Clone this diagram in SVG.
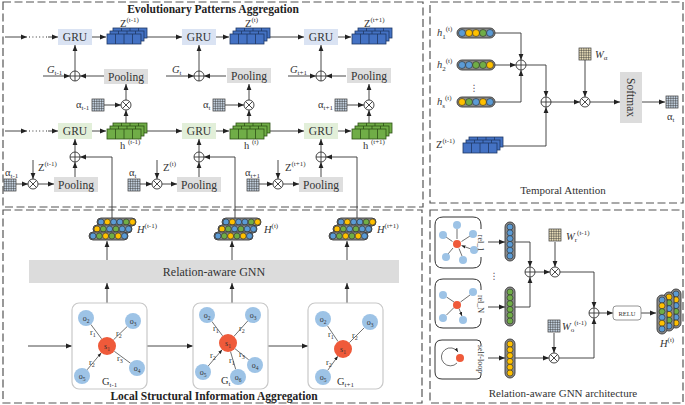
<svg xmlns="http://www.w3.org/2000/svg" xmlns:xlink="http://www.w3.org/1999/xlink" width="685" height="405" viewBox="0 0 685 405">
<style>
text{font-family:"Liberation Serif","Times New Roman",serif;fill:#333}
.bt{font-weight:bold;font-size:11.5px;fill:#222;text-anchor:middle}
.box{fill:none;stroke:#555;stroke-width:1.2;stroke-dasharray:8 3.5}
.ln{fill:none;stroke:#333;stroke-width:0.9}
.ar{fill:none;stroke:#333;stroke-width:0.9;marker-end:url(#ah)}
.dot{fill:none;stroke:#333;stroke-width:1;stroke-dasharray:1 2.4}
.gru1{fill:#dae3f3}
.gru2{fill:#e2efd9}
.pool{fill:#dedede}
.lbl{font-size:11.5px;text-anchor:middle}
.sm{font-size:10.5px}
.sup{font-size:7px}
.B{fill:#5b9bd5}.Y{fill:#ffc000}.G{fill:#70ad47}
.c circle{stroke:#2b2b2b;stroke-width:0.6}
.pill{fill:#8a8a8a;stroke:#3a3a3a;stroke-width:0.9}
.gbox{fill:#fff;stroke:#c8c8c8;stroke-width:1.2}
.on{fill:#9dc3e6}
.sn{fill:#ef5a3a}
.ge{fill:none;stroke:#333;stroke-width:0.7;marker-end:url(#as)}
.nt{font-size:8px;text-anchor:middle}
.rl{font-size:8.5px}
.zb{fill:#4472c4;stroke:#1f3864;stroke-width:0.8}
.hb{fill:#70ad47;stroke:#2d5016;stroke-width:0.8}
.mB{fill:#c9d7e6}
.mY{fill:#efe3bd}
</style>
<defs>
<marker id="ah" viewBox="0 0 10 10" refX="10" refY="5" markerWidth="6" markerHeight="6" orient="auto" markerUnits="userSpaceOnUse"><path d="M0 1L10 5L0 9z" fill="#222"/></marker>
<marker id="as" viewBox="0 0 10 10" refX="10" refY="5" markerWidth="4" markerHeight="4" orient="auto" markerUnits="userSpaceOnUse"><path d="M0 1L10 5L0 9z" fill="#222"/></marker>
<g id="op"><circle r="5" fill="#fff" stroke="#333" stroke-width="0.9"/><path d="M-5 0H5M0 -5V5" stroke="#333" stroke-width="0.9"/></g>
<g id="ot"><circle r="5" fill="#fff" stroke="#333" stroke-width="0.9"/><path d="M-3.5 -3.5L3.5 3.5M-3.5 3.5L3.5 -3.5" stroke="#333" stroke-width="0.9"/></g>
<g id="cube">
<g transform="translate(6,0)"><rect width="34" height="10"/><path d="M8.5 0v10M17 0v10M25.5 0v10"/></g>
<g transform="translate(3,3)"><rect width="34" height="10"/><path d="M8.5 0v10M17 0v10M25.5 0v10"/></g>
<g transform="translate(0,6)"><rect width="34" height="10"/><path d="M8.5 0v10M17 0v10M25.5 0v10"/></g>
</g>
<g id="mat"><rect width="12" height="12" stroke="#333" stroke-width="0.7"/><path d="M2.4 0V12M4.8 0V12M7.2 0V12M9.6 0V12M0 2.4H12M0 4.8H12M0 7.2H12M0 9.6H12" stroke="#333" stroke-width="0.5" fill="none"/></g>
<g id="Hs" class="c">
<g transform="translate(8,0)"><rect width="39" height="8" rx="4" class="pill"/><circle cx="4" cy="4" r="3" class="B"/><circle cx="10.3" cy="4" r="3" class="Y"/><circle cx="16.6" cy="4" r="3" class="B"/><circle cx="22.9" cy="4" r="3" class="B"/><circle cx="29.2" cy="4" r="3" class="G"/><circle cx="35.5" cy="4" r="3" class="Y"/></g>
<g transform="translate(4,7)"><rect width="39" height="8" rx="4" class="pill"/><circle cx="4" cy="4" r="3" class="Y"/><circle cx="10.3" cy="4" r="3" class="G"/><circle cx="16.6" cy="4" r="3" class="B"/><circle cx="22.9" cy="4" r="3" class="G"/><circle cx="29.2" cy="4" r="3" class="B"/><circle cx="35.5" cy="4" r="3" class="B"/></g>
<g transform="translate(0,14)"><rect width="39" height="8" rx="4" class="pill"/><circle cx="4" cy="4" r="3" class="B"/><circle cx="10.3" cy="4" r="3" class="G"/><circle cx="16.6" cy="4" r="3" class="Y"/><circle cx="22.9" cy="4" r="3" class="G"/><circle cx="29.2" cy="4" r="3" class="Y"/><circle cx="35.5" cy="4" r="3" class="B"/></g>
</g>
</defs>

<rect width="685" height="405" fill="#fff"/>

<!-- panels -->
<g id="panels">
<rect class="box" x="3" y="2" width="420" height="205"/>
<rect class="box" x="3" y="210" width="419" height="193"/>
<rect class="box" x="430" y="2" width="253" height="201"/>
<rect class="box" x="430" y="210" width="253" height="193"/>
</g>

<text class="bt" x="213" y="12.5">Evolutionary Patterns Aggregation</text>
<text class="bt" x="214" y="400">Local Structural Information Aggregation</text>
<text class="lbl" x="563" y="194" style="font-size:11px">Temporal Attention</text>
<text class="lbl" x="563" y="397" style="font-size:11px">Relation-aware GNN architecture</text>

<!-- connectors -->
<g id="connectors">
<!-- row 1 -->
<line class="ar" x1="5" y1="37" x2="27" y2="37"/>
<line class="dot" x1="29" y1="37" x2="48" y2="37"/>
<line class="ar" x1="48" y1="37" x2="58" y2="37"/>
<line class="ar" x1="92" y1="37" x2="106" y2="37"/>
<line class="ar" x1="147" y1="37" x2="182" y2="37"/>
<line class="ar" x1="216" y1="37" x2="229" y2="37"/>
<line class="ar" x1="270" y1="37" x2="304" y2="37"/>
<line class="ar" x1="338" y1="37" x2="351" y2="37"/>
<!-- row 2 -->
<line class="ar" x1="75" y1="71" x2="75" y2="45"/>
<line class="ar" x1="43" y1="76" x2="70" y2="76"/>
<line class="ar" x1="104" y1="76" x2="80" y2="76"/>
<line class="ar" x1="199" y1="71" x2="199" y2="45"/>
<line class="ar" x1="166" y1="76" x2="194" y2="76"/>
<line class="ar" x1="226" y1="76" x2="204" y2="76"/>
<line class="ar" x1="321" y1="71" x2="321" y2="45"/>
<line class="ar" x1="288" y1="76" x2="316" y2="76"/>
<line class="ar" x1="346" y1="76" x2="326" y2="76"/>
<!-- row 3 -->
<line class="ar" x1="126" y1="100" x2="126" y2="84"/>
<line class="ar" x1="249" y1="100" x2="249" y2="84"/>
<line class="ar" x1="369" y1="100" x2="369" y2="84"/>
<line class="ar" x1="104" y1="105" x2="121" y2="105"/>
<line class="ar" x1="225" y1="105" x2="244" y2="105"/>
<line class="ar" x1="347" y1="105" x2="364" y2="105"/>
<line class="ar" x1="126" y1="125" x2="126" y2="110"/>
<line class="ar" x1="249" y1="125" x2="249" y2="110"/>
<line class="ar" x1="369" y1="125" x2="369" y2="110"/>
<!-- row 4 -->
<line class="ar" x1="5" y1="131" x2="27" y2="131"/>
<line class="dot" x1="29" y1="131" x2="48" y2="131"/>
<line class="ar" x1="48" y1="131" x2="58" y2="131"/>
<line class="ar" x1="92" y1="131" x2="106" y2="131"/>
<line class="ar" x1="147" y1="131" x2="182" y2="131"/>
<line class="ar" x1="216" y1="131" x2="229" y2="131"/>
<line class="ar" x1="270" y1="131" x2="304" y2="131"/>
<line class="ar" x1="338" y1="131" x2="351" y2="131"/>
<!-- row 5 -->
<line class="ar" x1="75" y1="152" x2="75" y2="139"/>
<line class="ar" x1="199" y1="152" x2="199" y2="139"/>
<line class="ar" x1="321" y1="152" x2="321" y2="139"/>
<line class="ar" x1="75" y1="177" x2="75" y2="162"/>
<line class="ar" x1="199" y1="177" x2="199" y2="162"/>
<line class="ar" x1="321" y1="177" x2="321" y2="162"/>
<polyline class="ar" points="112,218 112,157 80,157"/>
<polyline class="ar" points="235,218 235,157 204,157"/>
<polyline class="ar" points="357,218 357,157 326,157"/>
<line class="ar" x1="16" y1="184" x2="28" y2="184"/>
<line class="ar" x1="38" y1="184" x2="54" y2="184"/>
<line class="ar" x1="33" y1="160" x2="33" y2="179"/>
<line class="ar" x1="140" y1="184" x2="152" y2="184"/>
<line class="ar" x1="162" y1="184" x2="177" y2="184"/>
<line class="ar" x1="157" y1="160" x2="157" y2="179"/>
<line class="ar" x1="259" y1="184" x2="273" y2="184"/>
<line class="ar" x1="283" y1="184" x2="299" y2="184"/>
<line class="ar" x1="278" y1="160" x2="278" y2="179"/>
<!-- bottom-left -->
<line class="ar" x1="107" y1="260" x2="107" y2="241"/>
<line class="ar" x1="232" y1="260" x2="232" y2="241"/>
<line class="ar" x1="347" y1="260" x2="347" y2="241"/>
<line class="ar" x1="107" y1="303" x2="107" y2="283"/>
<line class="ar" x1="232" y1="303" x2="232" y2="283"/>
<line class="ar" x1="347" y1="303" x2="347" y2="283"/>
<line class="ar" x1="28" y1="346" x2="72" y2="346"/>
<line class="ar" x1="147" y1="346" x2="193" y2="346"/>
<line class="ar" x1="268" y1="346" x2="308" y2="346"/>
<!-- temporal attention -->
<polyline class="ar" points="494,33 521,33 521,60"/>
<line class="ar" x1="494" y1="65" x2="516" y2="65"/>
<polyline class="ar" points="494,102 521,102 521,70"/>
<polyline class="ar" points="526,65 546,65 546,97"/>
<polyline class="ar" points="503,146 546,146 546,107"/>
<line class="ar" x1="551" y1="102" x2="580" y2="102"/>
<line class="ar" x1="585" y1="60" x2="585" y2="97"/>
<line class="ar" x1="590" y1="102" x2="620" y2="102"/>
<line class="ar" x1="642" y1="102" x2="665" y2="102"/>
<!-- gnn architecture -->
<line class="ar" x1="488" y1="242" x2="505" y2="242"/>
<polyline class="ar" points="515,242 530,242 530,267"/>
<line class="ar" x1="488" y1="307" x2="505" y2="307"/>
<polyline class="ar" points="515,307 530,307 530,277"/>
<line class="ar" x1="535" y1="272" x2="550" y2="272"/>
<line class="ar" x1="555" y1="242" x2="555" y2="267"/>
<polyline class="ar" points="560,272 594,272 594,308"/>
<line class="ar" x1="488" y1="358" x2="505" y2="358"/>
<line class="ar" x1="515" y1="358" x2="549" y2="358"/>
<line class="ar" x1="554" y1="333" x2="554" y2="353"/>
<polyline class="ar" points="559,358 594,358 594,318"/>
<line class="ar" x1="599" y1="313" x2="613" y2="313"/>
<line class="ar" x1="641" y1="313" x2="656" y2="313"/>
</g>

<!-- Evolutionary patterns nodes -->
<g id="gru-z1"><rect class="gru1" x="58" y="29" width="34" height="16"/><text class="lbl" x="75" y="41">GRU</text></g>
<g id="gru-z2"><rect class="gru1" x="182" y="29" width="34" height="16"/><text class="lbl" x="199" y="41">GRU</text></g>
<g id="gru-z3"><rect class="gru1" x="304" y="29" width="34" height="16"/><text class="lbl" x="321" y="41">GRU</text></g>
<g id="Z1"><use href="#cube" x="107" y="28" class="zb"/><text class="sm" x="120" y="26.5">Z<tspan class="sup" dy="-4.5">(t-1)</tspan></text></g>
<g id="Z2"><use href="#cube" x="230" y="28" class="zb"/><text class="sm" x="245" y="26.5">Z<tspan class="sup" dy="-4.5">(t)</tspan></text></g>
<g id="Z3"><use href="#cube" x="352" y="28" class="zb"/><text class="sm" x="364" y="26.5">Z<tspan class="sup" dy="-4.5">(t+1)</tspan></text></g>

<g id="agg1"><use href="#op" x="75" y="76"/><text class="sm" x="47" y="73"><tspan font-style="italic">G</tspan><tspan class="sup" dy="2">t-1</tspan></text></g>
<g id="agg2"><use href="#op" x="199" y="76"/><text class="sm" x="172" y="73"><tspan font-style="italic">G</tspan><tspan class="sup" dy="2">t</tspan></text></g>
<g id="agg3"><use href="#op" x="321" y="76"/><text class="sm" x="290" y="73"><tspan font-style="italic">G</tspan><tspan class="sup" dy="2">t+1</tspan></text></g>
<g id="poolA1"><rect class="pool" x="104" y="69" width="44" height="15"/><text class="lbl" x="126" y="80.5">Pooling</text></g>
<g id="poolA2"><rect class="pool" x="227" y="68" width="44" height="15"/><text class="lbl" x="249" y="79.5">Pooling</text></g>
<g id="poolA3"><rect class="pool" x="347" y="68" width="44" height="15"/><text class="lbl" x="369" y="79.5">Pooling</text></g>

<g id="mulA1"><use href="#ot" x="126" y="105"/><use href="#mat" x="92" y="99" class="mB"/><text class="sm" x="76" y="108">α<tspan class="sup" dy="2">t-1</tspan></text></g>
<g id="mulA2"><use href="#ot" x="249" y="105"/><use href="#mat" x="213" y="99" class="mB"/><text class="sm" x="203" y="108">α<tspan class="sup" dy="2">t</tspan></text></g>
<g id="mulA3"><use href="#ot" x="369" y="105"/><use href="#mat" x="335" y="99" class="mB"/><text class="sm" x="318" y="108">α<tspan class="sup" dy="2">t+1</tspan></text></g>

<g id="gru-h1"><rect class="gru2" x="58" y="123" width="34" height="16"/><text class="lbl" x="75" y="135">GRU</text></g>
<g id="gru-h2"><rect class="gru2" x="182" y="123" width="34" height="16"/><text class="lbl" x="199" y="135">GRU</text></g>
<g id="gru-h3"><rect class="gru2" x="304" y="123" width="34" height="16"/><text class="lbl" x="321" y="135">GRU</text></g>
<g id="h1"><use href="#cube" x="107" y="123" class="hb"/><text class="sm" x="120" y="149">h <tspan class="sup" dy="-5">(t-1)</tspan></text></g>
<g id="h2"><use href="#cube" x="230" y="123" class="hb"/><text class="sm" x="244" y="149">h <tspan class="sup" dy="-5">(t)</tspan></text></g>
<g id="h3"><use href="#cube" x="352" y="123" class="hb"/><text class="sm" x="363" y="149">h <tspan class="sup" dy="-5">(t+1)</tspan></text></g>

<g id="aggB1"><use href="#op" x="75" y="157"/></g>
<g id="aggB2"><use href="#op" x="199" y="157"/></g>
<g id="aggB3"><use href="#op" x="321" y="157"/></g>
<g id="poolB1"><rect class="pool" x="54" y="177" width="44" height="15"/><text class="lbl" x="76" y="188.5">Pooling</text></g>
<g id="poolB2"><rect class="pool" x="177" y="177" width="44" height="15"/><text class="lbl" x="199" y="188.5">Pooling</text></g>
<g id="poolB3"><rect class="pool" x="299" y="177" width="44" height="15"/><text class="lbl" x="321" y="188.5">Pooling</text></g>
<g id="mulB1"><use href="#ot" x="33" y="184"/><use href="#mat" x="4" y="179" class="mB"/><text class="sm" x="5" y="176">α<tspan class="sup" dy="2">t-1</tspan></text><text class="sm" x="38" y="171">Z<tspan class="sup" dy="-5">(t-1)</tspan></text></g>
<g id="mulB2"><use href="#ot" x="157" y="184"/><use href="#mat" x="128" y="179" class="mB"/><text class="sm" x="129" y="176">α<tspan class="sup" dy="2">t</tspan></text><text class="sm" x="163" y="171">Z<tspan class="sup" dy="-5">(t)</tspan></text></g>
<g id="mulB3"><use href="#ot" x="278" y="184"/><use href="#mat" x="247" y="179" class="mB"/><text class="sm" x="245" y="176">α<tspan class="sup" dy="2">t+1</tspan></text><text class="sm" x="285" y="171">Z<tspan class="sup" dy="-5">(t+1)</tspan></text></g>

<!-- Local structural -->
<g id="H1"><use href="#Hs" x="89" y="218"/><text class="sm" x="137" y="233"><tspan font-style="italic">H</tspan><tspan class="sup" dy="-5">(t-1)</tspan></text></g>
<g id="H2"><use href="#Hs" x="214" y="218"/><text class="sm" x="264" y="233"><tspan font-style="italic">H</tspan><tspan class="sup" dy="-5">(t)</tspan></text></g>
<g id="H3"><use href="#Hs" x="329" y="218"/><text class="sm" x="377" y="233"><tspan font-style="italic">H</tspan><tspan class="sup" dy="-5">(t+1)</tspan></text></g>
<g id="gnn"><rect x="29" y="260" width="370" height="23" fill="#dcdcdc"/><text class="lbl" x="214" y="276" style="font-size:12px">Relation-aware GNN</text></g>

<g id="graph1">
<rect class="gbox" x="72" y="303" width="75" height="86" rx="7"/>
<path class="ge" d="M101.6 338.8L90.8 324.4M113.5 339.8L127.2 326.5M114.3 351.3L130.6 363.3M87.1 369.8L101.2 352.9"/>
<circle class="on" cx="86" cy="318" r="8"/><circle class="on" cx="133" cy="321" r="8"/><circle class="on" cx="82" cy="376" r="8"/><circle class="on" cx="137" cy="368" r="8"/>
<circle class="sn" cx="107" cy="346" r="9"/>
<text class="nt" x="86" y="321">o<tspan font-size="5.5" dy="1.5">2</tspan></text>
<text class="nt" x="133" y="324">o<tspan font-size="5.5" dy="1.5">3</tspan></text>
<text class="nt" x="82" y="379">o<tspan font-size="5.5" dy="1.5">5</tspan></text>
<text class="nt" x="137" y="371">o<tspan font-size="5.5" dy="1.5">4</tspan></text>
<text class="nt" x="107" y="349">s<tspan font-size="5.5" dy="1.5">1</tspan></text>
<text class="rl" x="90" y="335">r<tspan font-size="6" dy="1.5">1</tspan></text>
<text class="rl" x="116" y="336">r<tspan font-size="6" dy="1.5">2</tspan></text>
<text class="rl" x="117" y="361">r<tspan font-size="6" dy="1.5">3</tspan></text>
<text class="rl" x="89" y="365">r<tspan font-size="6" dy="1.5">2</tspan></text>
<text class="sm" x="102" y="385">G<tspan class="sup" dy="2">t-1</tspan></text>
</g>

<g id="graph2">
<rect class="gbox" x="193" y="303" width="75" height="86" rx="7"/>
<path class="ge" d="M222.6 335.8L211.8 321.4M234 336.3L247.7 321M235 348.7L248.8 359.9M230.5 351.6L235.7 369.3M208.2 366L222.1 349.8"/>
<circle class="on" cx="207" cy="315" r="8"/><circle class="on" cx="253" cy="315" r="8"/><circle class="on" cx="203" cy="372" r="8"/><circle class="on" cx="255" cy="365" r="8"/><circle class="on" cx="238" cy="377" r="8"/>
<circle class="sn" cx="228" cy="343" r="9"/>
<text class="nt" x="207" y="318">o<tspan font-size="5.5" dy="1.5">2</tspan></text>
<text class="nt" x="253" y="318">o<tspan font-size="5.5" dy="1.5">3</tspan></text>
<text class="nt" x="203" y="375">o<tspan font-size="5.5" dy="1.5">5</tspan></text>
<text class="nt" x="255" y="368">o<tspan font-size="5.5" dy="1.5">4</tspan></text>
<text class="nt" x="238" y="380">o<tspan font-size="5.5" dy="1.5">6</tspan></text>
<text class="nt" x="228" y="346">s<tspan font-size="5.5" dy="1.5">1</tspan></text>
<text class="rl" x="213" y="331">r<tspan font-size="6" dy="1.5">1</tspan></text>
<text class="rl" x="239" y="331">r<tspan font-size="6" dy="1.5">2</tspan></text>
<text class="rl" x="210" y="358">r<tspan font-size="6" dy="1.5">2</tspan></text>
<text class="rl" x="229" y="363">r<tspan font-size="6" dy="1.5">1</tspan></text>
<text class="rl" x="239" y="357">r<tspan font-size="6" dy="1.5">3</tspan></text>
<text class="sm" x="221" y="384">G<tspan class="sup" dy="2">t</tspan></text>
</g>

<g id="graph3">
<rect class="gbox" x="308" y="303" width="75" height="86" rx="7"/>
<path class="ge" d="M338 341.5L327.4 325.7M349.4 342.6L364.3 327.7M327.6 370.5L337.8 356.3"/>
<circle class="on" cx="323" cy="319" r="8"/><circle class="on" cx="370" cy="322" r="8"/><circle class="on" cx="323" cy="377" r="8"/>
<circle class="sn" cx="343" cy="349" r="9"/>
<text class="nt" x="323" y="322">o<tspan font-size="5.5" dy="1.5">2</tspan></text>
<text class="nt" x="370" y="325">o<tspan font-size="5.5" dy="1.5">3</tspan></text>
<text class="nt" x="323" y="380">o<tspan font-size="5.5" dy="1.5">5</tspan></text>
<text class="nt" x="343" y="352">s<tspan font-size="5.5" dy="1.5">1</tspan></text>
<text class="rl" x="328" y="337">r<tspan font-size="6" dy="1.5">1</tspan></text>
<text class="rl" x="352" y="338">r<tspan font-size="6" dy="1.5">2</tspan></text>
<text class="rl" x="326" y="365">r<tspan font-size="6" dy="1.5">2</tspan></text>
<text class="sm" x="337" y="385">G<tspan class="sup" dy="2">t+1</tspan></text>
</g>

<!-- Temporal attention -->
<g id="ta-h1" class="c"><text class="sm" x="437" y="36"><tspan font-style="italic">h</tspan><tspan class="sup" dy="3">1</tspan><tspan class="sup" dy="-8">(t)</tspan></text>
<rect x="457" y="28" width="38" height="10" rx="5" class="pill"/><circle cx="462" cy="33" r="3.5" class="B"/><circle cx="469" cy="33" r="3.5" class="Y"/><circle cx="476" cy="33" r="3.5" class="Y"/><circle cx="483" cy="33" r="3.5" class="G"/><circle cx="490" cy="33" r="3.5" class="B"/></g>
<g id="ta-h2" class="c"><text class="sm" x="437" y="68"><tspan font-style="italic">h</tspan><tspan class="sup" dy="3">2</tspan><tspan class="sup" dy="-8">(t)</tspan></text>
<rect x="457" y="60" width="38" height="10" rx="5" class="pill"/><circle cx="462" cy="65" r="3.5" class="B"/><circle cx="469" cy="65" r="3.5" class="B"/><circle cx="476" cy="65" r="3.5" class="G"/><circle cx="483" cy="65" r="3.5" class="G"/><circle cx="490" cy="65" r="3.5" class="Y"/></g>
<text x="474" y="91" style="font-family:'DejaVu Sans',sans-serif;font-size:9px;fill:#555" text-anchor="middle">⋮</text>
<g id="ta-hs" class="c"><text class="sm" x="437" y="105"><tspan font-style="italic">h</tspan><tspan class="sup" dy="3">s</tspan><tspan class="sup" dy="-8">(t)</tspan></text>
<rect x="457" y="97" width="38" height="10" rx="5" class="pill"/><circle cx="462" cy="102" r="3.5" class="Y"/><circle cx="469" cy="102" r="3.5" class="G"/><circle cx="476" cy="102" r="3.5" class="B"/><circle cx="483" cy="102" r="3.5" class="Y"/><circle cx="490" cy="102" r="3.5" class="B"/></g>
<g id="ta-sum1"><use href="#op" x="521" y="65"/></g>
<g id="ta-sum2"><use href="#op" x="546" y="102"/></g>
<g id="ta-z"><use href="#cube" x="463" y="137" class="zb"/><text class="sm" x="436" y="148">Z<tspan class="sup" dy="-5">(t-1)</tspan></text></g>
<g id="ta-mul"><use href="#ot" x="585" y="102"/><use href="#mat" x="579" y="48" class="mY"/><text class="sm" x="595" y="58"><tspan font-style="italic">W</tspan><tspan class="sup" dy="2">α</tspan></text></g>
<g id="softmax"><rect x="620" y="72" width="22" height="51" fill="#dcdcdc"/><text class="lbl" transform="translate(631,97.5) rotate(90)" y="4">Softmax</text></g>
<g id="ta-alpha"><use href="#mat" x="666" y="96" class="mB"/><text class="sm" x="667" y="120">α<tspan class="sup" dy="2">t</tspan></text></g>

<!-- GNN architecture -->
<g id="rel1">
<path d="M481 229V225Q481 217 473 217H443Q435 217 435 225V260Q435 268 443 268H473Q481 268 481 260V257" fill="none" stroke="#333" stroke-width="1"/>
<path class="ge" d="M457 229L457 239M446 237L452.5 241.5M470 236L461.5 241.5M448 254L453 248M462 256L459 248.5M471 249L461.5 245.5"/>
<circle class="on" cx="457" cy="225" r="4"/><circle class="on" cx="443" cy="235" r="4"/><circle class="on" cx="473" cy="234" r="4"/><circle class="on" cx="446" cy="257" r="4"/><circle class="on" cx="463" cy="260" r="4"/><circle class="on" cx="474" cy="250" r="4"/>
<circle class="sn" cx="457" cy="244" r="4"/>
<text class="nt" transform="translate(481,243) rotate(90)" y="3">rel_1</text>
</g>
<text x="494" y="279" style="font-family:'DejaVu Sans',sans-serif;font-size:9px;fill:#555" text-anchor="middle">⋮</text>
<g id="relN">
<path d="M481 290V287Q481 279 473 279H443Q435 279 435 287V320Q435 328 443 328H473Q481 328 481 320V318" fill="none" stroke="#333" stroke-width="1"/>
<path class="ge" d="M470 295L460.5 302M454 302L446.5 297M454 307.5L446.5 315M459 308.5L462 316"/>
<circle class="on" cx="443" cy="295" r="4"/><circle class="on" cx="473" cy="292" r="4"/><circle class="on" cx="443" cy="318" r="4"/><circle class="on" cx="463" cy="320" r="4"/>
<circle class="sn" cx="457" cy="305" r="4"/>
<text class="nt" transform="translate(481,304) rotate(90)" y="3">rel_N</text>
</g>
<g id="selfloop">
<path d="M481 345V344Q481 340 477 340H442Q435 340 435 347V372Q435 379 442 379H477Q481 379 481 375V373" fill="none" stroke="#333" stroke-width="1"/>
<path class="ge" d="M457 363A9 9 0 1 1 458 352"/>
<circle class="sn" cx="460" cy="358" r="4"/>
<text class="nt" transform="translate(481,359) rotate(90)" y="3">self-loop</text>
</g>
<g id="col1" class="c"><rect x="505" y="222" width="10" height="39" rx="5" class="pill"/><circle cx="510" cy="227" r="3" class="B"/><circle cx="510" cy="232.8" r="3" class="B"/><circle cx="510" cy="238.6" r="3" class="B"/><circle cx="510" cy="244.4" r="3" class="B"/><circle cx="510" cy="250.2" r="3" class="B"/><circle cx="510" cy="256" r="3" class="B"/></g>
<g id="colN" class="c"><rect x="505" y="287" width="10" height="39" rx="5" class="pill"/><circle cx="510" cy="292" r="3" class="G"/><circle cx="510" cy="297.8" r="3" class="G"/><circle cx="510" cy="303.6" r="3" class="G"/><circle cx="510" cy="309.4" r="3" class="G"/><circle cx="510" cy="315.2" r="3" class="G"/><circle cx="510" cy="321" r="3" class="G"/></g>
<g id="colS" class="c"><rect x="505" y="339" width="10" height="39" rx="5" class="pill"/><circle cx="510" cy="344" r="3" class="Y"/><circle cx="510" cy="349.8" r="3" class="Y"/><circle cx="510" cy="355.6" r="3" class="Y"/><circle cx="510" cy="361.4" r="3" class="Y"/><circle cx="510" cy="367.2" r="3" class="Y"/><circle cx="510" cy="373" r="3" class="Y"/></g>
<g id="ga-sum"><use href="#op" x="530" y="272"/></g>
<g id="ga-mulr"><use href="#ot" x="555" y="272"/><use href="#mat" x="549" y="229" class="mY"/><text class="sm" x="566" y="240"><tspan font-style="italic">W</tspan><tspan class="sup" dy="2">r</tspan><tspan class="sup" dy="-7">(t-1)</tspan></text></g>
<g id="ga-mulo"><use href="#ot" x="554" y="358"/><use href="#mat" x="548" y="320" class="mB"/><text class="sm" x="562" y="330"><tspan font-style="italic">W</tspan><tspan class="sup" dy="2">o</tspan><tspan class="sup" dy="-7">(t-1)</tspan></text></g>
<g id="ga-sum2"><use href="#op" x="594" y="313"/></g>
<g id="relu"><rect x="613" y="306" width="28" height="14" rx="3" fill="#fff" stroke="#888" stroke-width="0.9"/><text x="627" y="315.5" text-anchor="middle" style="font-size:6.5px">RELU</text></g>
<g id="Hout" class="c">
<rect x="671" y="289" width="10" height="39" rx="5" class="pill"/><circle cx="676" cy="294" r="3" class="B"/><circle cx="676" cy="299.8" r="3" class="Y"/><circle cx="676" cy="305.6" r="3" class="B"/><circle cx="676" cy="311.4" r="3" class="G"/><circle cx="676" cy="317.2" r="3" class="B"/><circle cx="676" cy="323" r="3" class="Y"/>
<rect x="664" y="292" width="10" height="39" rx="5" class="pill"/><circle cx="669" cy="297" r="3" class="Y"/><circle cx="669" cy="302.8" r="3" class="G"/><circle cx="669" cy="308.6" r="3" class="B"/><circle cx="669" cy="314.4" r="3" class="Y"/><circle cx="669" cy="320.2" r="3" class="G"/><circle cx="669" cy="326" r="3" class="B"/>
<rect x="657" y="295" width="10" height="39" rx="5" class="pill"/><circle cx="662" cy="300" r="3" class="B"/><circle cx="662" cy="305.8" r="3" class="Y"/><circle cx="662" cy="311.6" r="3" class="G"/><circle cx="662" cy="317.4" r="3" class="B"/><circle cx="662" cy="323.2" r="3" class="Y"/><circle cx="662" cy="329" r="3" class="B"/>
<text class="sm" x="660" y="347"><tspan font-style="italic">H</tspan><tspan class="sup" dy="-5">(t)</tspan></text>
</g>
</svg>
